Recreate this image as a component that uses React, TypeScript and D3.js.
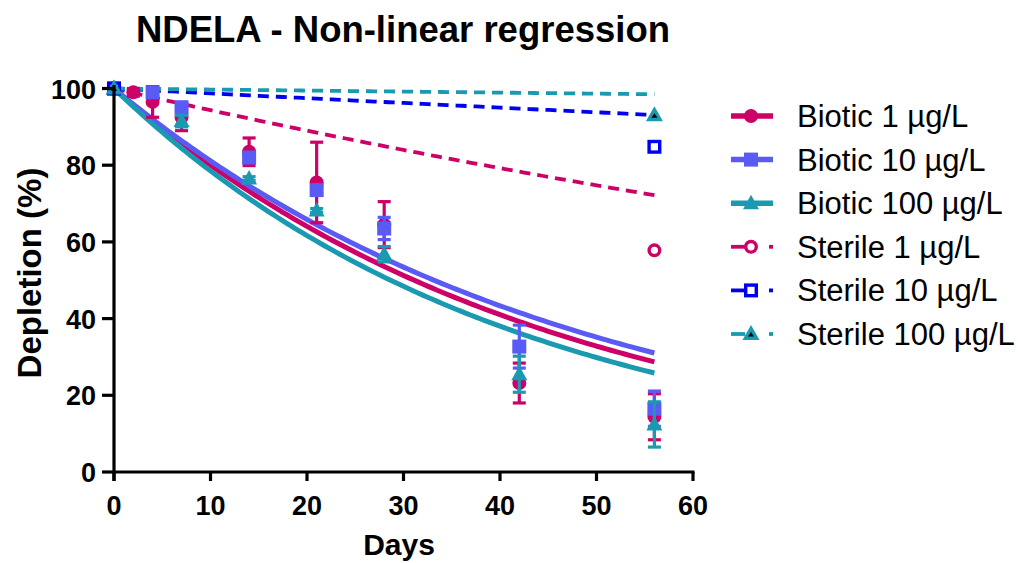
import React from "react";
import * as d3 from "d3";

// ---- data ----
const days = [0, 2, 4, 7, 14, 21, 28, 42, 56];

const biotic1Mean = [100, 99, 96.5, 92.5, 83.5, 75.5, 64.5, 23.2, 14.4];
const biotic1Sd = [0, 1, 4, 3.5, 3.6, 10.5, 6, 5.2, 6];
const biotic10Mean = [100, null, 99, 95, 82, 73.5, 63.5, 32.7, 16.5];
const biotic10Sd = [0, null, 1, 1.5, 1, 1, 2.9, 5.6, 4.6];
const biotic100Mean = [100, null, null, 91.5, 76.5, 68.2, 56.8, 25.5, 12.4];
const biotic100Sd = [0, null, null, 1.5, 0.5, 0.5, 2, 4.7, 5.9];

const sterileDays = [0, 56];
const sterile1Mean = [100, 57.8];
const sterile10Mean = [100, 84.8];
const sterile100Mean = [100, 93];

// fitted one-phase decay rate constants (per day), plateau 0, Y0 = 100
const fitRate = [0.02228, 0.0209, 0.02418, 0.00582, 0.00128, 0.00027];

const seriesNames = [
  "Biotic 1 µg/L",
  "Biotic 10 µg/L",
  "Biotic 100 µg/L",
  "Sterile 1 µg/L",
  "Sterile 10 µg/L",
  "Sterile 100 µg/L",
];
const xTicks = [0, 10, 20, 30, 40, 50, 60];
const yTicks = [0, 20, 40, 60, 80, 100];

// ---- style ----
const CRIMSON = "#CC0066";
const PERI = "#5A5AF5";
const TEAL = "#1A9AB0";
const BLUE = "#0000F0";
const colors = [CRIMSON, PERI, TEAL, CRIMSON, BLUE, TEAL];
const shapes = ["circle", "square", "triangle", "ocircle", "osquare", "otriangle"];
const FONT = "'Liberation Sans', Arial, Helvetica, sans-serif";

const W = 1018;
const H = 563;

function Marker({ shape, x, y, color }: { shape: string; x: number; y: number; color: string }) {
  const r = 7;
  if (shape === "circle") return <circle cx={x} cy={y} r={r} fill={color} />;
  if (shape === "square") return <rect x={x - r} y={y - r} width={2 * r} height={2 * r} fill={color} />;
  if (shape === "triangle") {
    const p = `M${x},${y - 8.5}L${x + 8},${y + 6}L${x - 8},${y + 6}Z`;
    return <path d={p} fill={color} />;
  }
  if (shape === "ocircle")
    return <circle cx={x} cy={y} r={r - 1.7} fill="#fff" stroke={color} strokeWidth={3.4} />;
  if (shape === "osquare")
    return (
      <rect x={x - r + 1.7} y={y - r + 1.7} width={2 * r - 3.4} height={2 * r - 3.4} fill="#fff" stroke={color} strokeWidth={3.4} />
    );
  // triangle with dark centre
  const p = `M${x},${y - 9}L${x + 8.5},${y + 6}L${x - 8.5},${y + 6}Z`;
  const q = `M${x},${y - 2}L${x + 3},${y + 2.5}L${x - 3},${y + 2.5}Z`;
  return (
    <g>
      <path d={p} fill={color} />
      <path d={q} fill="#000" />
    </g>
  );
}

export default function App() {
  const x = d3.scaleLinear().domain([0, 60]).range([114, 693]);
  const y = d3.scaleLinear().domain([0, 100]).range([472, 88.5]);

  const fitDays = d3.range(0, 56.01, 0.5);
  const fitLine = (k: number) =>
    d3
      .line<number>()
      .x((t) => x(t))
      .y((t) => y(100 * Math.exp(-k * t)))(fitDays) as string;

  const biotic = [
    { mean: biotic1Mean, sd: biotic1Sd },
    { mean: biotic10Mean, sd: biotic10Sd },
    { mean: biotic100Mean, sd: biotic100Sd },
  ];
  const sterile = [sterile1Mean, sterile10Mean, sterile100Mean];

  const legendY = d3.scaleLinear().domain([0, 5]).range([116, 334]);

  return (
    <svg
      width={W}
      height={H}
      viewBox={`0 0 ${W} ${H}`}
      style={{ position: "absolute", left: 0, top: 0, background: "#fff" }}
      fontFamily={FONT}
    >
      <rect width={W} height={H} fill="#fff" />
      {/* title */}
      <text x={403} y={42} textAnchor="middle" fontSize={36.5} fontWeight="bold" fill="#000">
        NDELA - Non-linear regression
      </text>

      {/* fitted curves */}
      {fitRate.map((k, i) =>
        i < 3 ? (
          <path key={"f" + i} d={fitLine(k)} fill="none" stroke={colors[i]} strokeWidth={5} />
        ) : (
          <path
            key={"f" + i}
            d={fitLine(k)}
            fill="none"
            stroke={colors[i]}
            strokeWidth={3.8}
            strokeDasharray="11 7"
          />
        )
      )}

      {/* biotic error bars and points */}
      {biotic.map((s, i) => (
        <g key={"b" + i}>
          {days.map((d, j) => {
            const m = s.mean[j];
            const sd = s.sd[j];
            if (m == null || sd == null) return null;
            const top = y(m + sd);
            const bot = y(m - sd);
            return (
              <g key={j}>
                {sd > 0 && (
                  <g stroke={colors[i]} strokeWidth={3.2}>
                    <line x1={x(d)} x2={x(d)} y1={top} y2={bot} />
                    <line x1={x(d) - 6.5} x2={x(d) + 6.5} y1={top} y2={top} />
                    <line x1={x(d) - 6.5} x2={x(d) + 6.5} y1={bot} y2={bot} />
                  </g>
                )}
                <Marker shape={shapes[i]} x={x(d)} y={y(m)} color={colors[i]} />
              </g>
            );
          })}
        </g>
      ))}

      {/* sterile points */}
      {sterile.map((s, i) => (
        <g key={"s" + i}>
          {sterileDays.map((d, j) => (
            <Marker key={j} shape={shapes[i + 3]} x={x(d)} y={y(s[j])} color={colors[i + 3]} />
          ))}
        </g>
      ))}

      {/* axes */}
      <g stroke="#000" strokeWidth={3.2} fill="none">
        <line x1={x(0)} x2={x(60) + 1.5} y1={y(0)} y2={y(0)} />
        <line x1={x(0)} x2={x(0)} y1={y(0) + 9} y2={y(100) - 3.5} />
        {xTicks.map((t) => (
          <line key={"xt" + t} x1={x(t)} x2={x(t)} y1={y(0)} y2={y(0) + 9} />
        ))}
        {yTicks.map((t) => (
          <line key={"yt" + t} x1={x(0) - 12} x2={x(0)} y1={y(t)} y2={y(t)} />
        ))}
      </g>
      {xTicks.map((t) => (
        <text key={"xl" + t} x={x(t)} y={515} textAnchor="middle" fontSize={27} fontWeight="bold" fill="#000">
          {t}
        </text>
      ))}
      {yTicks.map((t) => (
        <text key={"yl" + t} x={96} y={y(t) + 10} textAnchor="end" fontSize={27} fontWeight="bold" fill="#000">
          {t}
        </text>
      ))}
      <text x={399} y={555} textAnchor="middle" fontSize={30} fontWeight="bold" fill="#000">
        Days
      </text>
      <text
        transform={`translate(41,${273}) rotate(-90)`}
        textAnchor="middle"
        fontSize={33}
        fontWeight="bold"
        fill="#000"
      >
        Depletion (%)
      </text>

      {/* legend */}
      {seriesNames.map((name, i) => {
        const ly = legendY(i);
        return (
          <g key={"lg" + i}>
            {i < 3 ? (
              <line x1={731} x2={773} y1={ly} y2={ly} stroke={colors[i]} strokeWidth={5.5} />
            ) : (
              <g stroke={colors[i]} strokeWidth={3.8}>
                <line x1={731} x2={745} y1={ly} y2={ly} />
                <line x1={769} x2={773} y1={ly} y2={ly} />
              </g>
            )}
            <Marker shape={shapes[i]} x={751} y={ly} color={colors[i]} />
            <text x={797} y={ly + 11} fontSize={31} fill="#000">
              {name}
            </text>
          </g>
        );
      })}
    </svg>
  );
}
